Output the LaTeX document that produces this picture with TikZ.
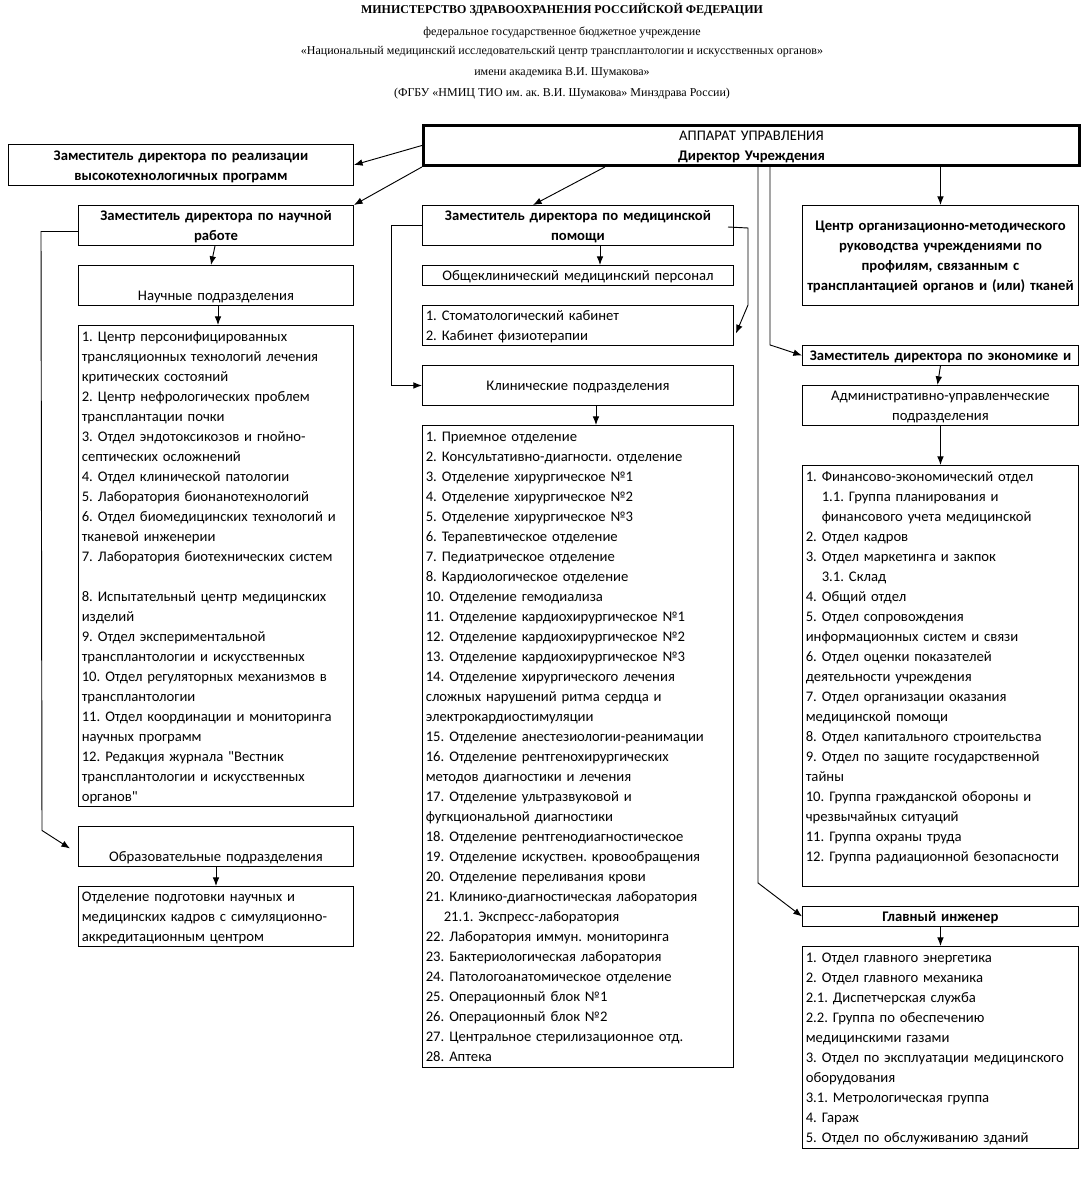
\documentclass[tikz,border=0pt]{standalone}
\usepackage{fontspec}
\setmainfont{Carlito}
\newfontfamily\hdrfont{Liberation Serif}
\usetikzlibrary{arrows.meta,calc}
\frenchspacing

\newcommand{\lnstrut}{\rule[-3.5pt]{0pt}{15pt}}
\tikzset{
  box/.style={draw,line width=0.7pt,inner xsep=2.5pt,inner ysep=0pt,anchor=north west,
    font=\fontsize{11}{15}\selectfont,align=center,
    execute at begin node=\lnstrut,execute at end node=\lnstrut},
  listbox/.style={box,align=left},
  wh/.style 2 args={minimum width=#1*0.75pt,text width=#1*0.75pt-5pt,minimum height=#2*0.75pt},
  arr/.style={-{Latex[length=6.5pt,width=5pt]},line width=0.7pt},
  hdr/.style={font=\hdrfont\fontsize{9}{10}\selectfont,inner sep=0pt}
}
\newcommand{\ind}{\hspace*{12pt}}

\begin{document}
\begin{tikzpicture}[x=0.75pt,y=-0.75pt]
\useasboundingbox (0,0) rectangle (1084,1196);

% header
\node[hdr,font=\hdrfont\bfseries\fontsize{9}{10}\selectfont] (ministry) at (562,10) {МИНИСТЕРСТВО ЗДРАВООХРАНЕНИЯ РОССИЙСКОЙ ФЕДЕРАЦИИ};
\node[hdr] (fgbu) at (562,32) {федеральное государственное бюджетное учреждение};
\node[hdr] (centre) at (562,52) {«Национальный медицинский исследовательский центр трансплантологии и искусственных органов»};
\node[hdr] (named) at (562,73) {имени академика В.И. Шумакова»};
\node[hdr] (short) at (562,94) {(ФГБУ «НМИЦ ТИО им. ак. В.И. Шумакова» Минздрава России)};

% top
\node[box,wh={656}{40},line width=2.2pt] (apparat) at (422,124) {АППАРАТ УПРАВЛЕНИЯ\\\textbf{Директор Учреждения}};
\node[box,wh={345}{41},font=\bfseries\fontsize{11}{15}\selectfont] (zamvtp) at (8,144) {Заместитель директора по реализации\\высокотехнологичных программ};

% left column
\node[box,wh={275}{40},font=\bfseries\fontsize{11}{15}\selectfont] (zamnauch) at (78,205) {Заместитель директора по научной\\работе};
\node[box,wh={275}{40}] (nauchpodr) at (78,265) {\\Научные подразделения};
\node[listbox,wh={275}{481}] (nauchlist) at (78,325) {1. Центр персонифицированных\\трансляционных технологий лечения\\критических состояний\\2. Центр нефрологических проблем\\трансплантации почки\\3. Отдел эндотоксикозов и гнойно-\\септических осложнений\\4. Отдел клинической патологии\\5. Лаборатория бионанотехнологий\\6. Отдел биомедицинских технологий и\\тканевой инженерии\\7. Лаборатория биотехнических систем\\\mbox{}\\8. Испытательный центр медицинских\\изделий\\9. Отдел экспериментальной\\трансплантологии и искусственных\\10. Отдел регуляторных механизмов в\\трансплантологии\\11. Отдел координации и мониторинга\\научных программ\\12. Редакция журнала \textquotedbl Вестник\\трансплантологии и искусственных\\органов\textquotedbl};
\node[box,wh={275}{40}] (obraz) at (78,826) {\\Образовательные подразделения};
\node[listbox,wh={275}{60}] (podgot) at (78,886) {Отделение подготовки научных и\\медицинских кадров с симуляционно-\\аккредитационным центром};

% middle column
\node[box,wh={311}{40},font=\bfseries\fontsize{11}{15}\selectfont] (zammed) at (422,205) {Заместитель директора по медицинской\\помощи};
\node[box,wh={311}{20}] (obshch) at (422,265) {Общеклинический медицинский персонал};
\node[listbox,wh={311}{40}] (kabinet) at (422,305) {1. Стоматологический кабинет\\2. Кабинет физиотерапии};
\node[box,wh={311}{40}] (klinpodr) at (422,365) {Клинические подразделения};
\node[listbox,wh={311}{642}] (klinlist) at (422,425) {1. Приемное отделение\\2. Консультативно-диагности. отделение\\3. Отделение хирургическое №1\\4. Отделение хирургическое №2\\5. Отделение хирургическое №3\\6. Терапевтическое отделение\\7. Педиатрическое отделение\\8. Кардиологическое отделение\\10. Отделение гемодиализа\\11. Отделение кардиохирургическое №1\\12. Отделение кардиохирургическое №2\\13. Отделение кардиохирургическое №3\\14. Отделение хирургического лечения\\сложных нарушений ритма сердца и\\электрокардиостимуляции\\15. Отделение анестезиологии-реанимации\\16. Отделение рентгенохирургических\\методов диагностики и лечения\\17. Отделение ультразвуковой и\\фугкциональной диагностики\\18. Отделение рентгенодиагностическое\\19. Отделение искуствен. кровообращения\\20. Отделение переливания крови\\21. Клинико-диагностическая лаборатория\\\hspace*{13.5pt}21.1. Экспресс-лаборатория\\22. Лаборатория иммун. мониторинга\\23. Бактериологическая лаборатория\\24. Патологоанатомическое отделение\\25. Операционный блок №1\\26. Операционный блок №2\\27. Центральное стерилизационное отд.\\28. Аптека};

% right column
\node[box,wh={276}{100},font=\bfseries\fontsize{11}{15}\selectfont] (centr) at (802,205) {Центр организационно-методического\\руководства учреждениями по\\профилям, связанным с\\трансплантацией органов и (или) тканей};
\node[box,wh={276}{20},font=\bfseries\fontsize{11}{15}\selectfont] (zamecon) at (802,345) {Заместитель директора по экономике и};
\node[box,wh={276}{40}] (admin) at (802,385) {Административно-управленческие\\подразделения};
\node[listbox,wh={276}{421}] (adminlist) at (802,465) {1. Финансово-экономический отдел\\\ind 1.1. Группа планирования и\\\ind финансового учета медицинской\\2. Отдел кадров\\3. Отдел маркетинга и закпок\\\ind 3.1. Склад\\4. Общий отдел\\5. Отдел сопровождения\\информационных систем и связи\\6. Отдел оценки показателей\\деятельности учреждения\\7. Отдел организации оказания\\медицинской помощи\\8. Отдел капитального строительства\\9. Отдел по защите государственной\\тайны\\10. Группа гражданской обороны и\\чрезвычайных ситуаций\\11. Группа охраны труда\\12. Группа радиационной безопасности\\\mbox{}};
\node[box,wh={276}{20},font=\bfseries\fontsize{11}{15}\selectfont] (glavinzh) at (802,906) {Главный инженер};
\node[listbox,wh={276}{202}] (glavlist) at (802,946) {1. Отдел главного энергетика\\2. Отдел главного механика\\2.1. Диспетчерская служба\\2.2. Группа по обеспечению\\медицинскими газами\\3. Отдел по эксплуатации медицинского\\оборудования\\3.1. Метрологическая группа\\4. Гараж\\5. Отдел по обслуживанию зданий};

% connectors from the director
\draw[arr] (apparat.west) -- (zamvtp.east);
\draw[arr] (apparat.south west) -- (zamnauch.north east);
\draw[arr] ($(apparat.south west)+(183,0)$) -- ($(zammed.north west)+(111,0)$);
\draw[arr] (apparat.south -| centr.north) -- (centr.north);
\draw[arr] ($(apparat.south west)+(348,0)$) -- ++(0,178) -- (zamecon.west);
\draw[arr] ($(apparat.south west)+(336,0)$) -- ++(0,716) -- (glavinzh.west);

% science
\draw[arr] ($(zamnauch.south west)+(137,0)$) -- ($(nauchpodr.north west)+(133,0)$);
\draw[arr] ($(nauchpodr.south west)+(140,0)$) -- ($(nauchlist.north west)+(140,0)$);
\draw[arr] ($(zamnauch.west)+(0,6)$) -- ++(-37,0) -- ++(1,599) -- ($(obraz.west)+(-8,2)$);
\draw[arr] ($(obraz.south west)+(138,0)$) -- ($(podgot.north west)+(138,0)$);

% medicine
\draw[arr] ($(zammed.south west)+(178,0)$) -- ($(obshch.north west)+(178,0)$);
\draw[arr] ($(zammed.north west)+(306,22)$) -- ++(20,1) -- ++(0,77) -- ($(kabinet.east)+(2,8)$);
\draw[arr] (zammed.west) -- ++(-31,0) -- ++(0,160) -- (klinpodr.west);
\draw[arr] ($(klinpodr.south west)+(174,0)$) -- ($(klinlist.north west)+(174,0)$);

% economy and engineering
\draw[arr] (zamecon.south) -- ($(admin.north)+(-3,0)$);
\draw[arr] (admin.south) -- (adminlist.north);
\draw[arr] (glavinzh.south) -- (glavlist.north);
\end{tikzpicture}
\end{document}
